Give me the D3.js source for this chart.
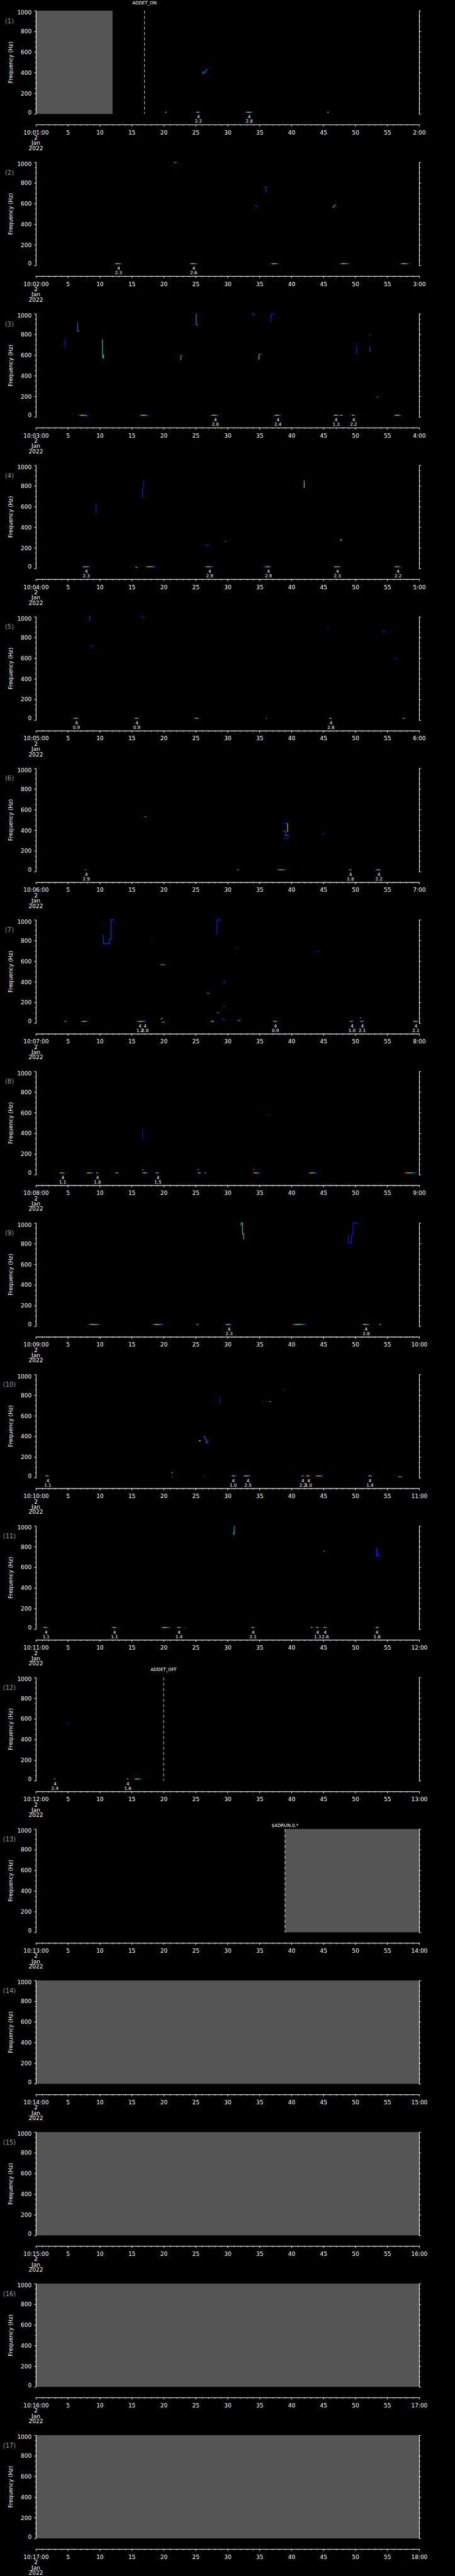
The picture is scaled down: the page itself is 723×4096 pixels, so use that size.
<!DOCTYPE html>
<html>
<head>
<meta charset="utf-8">
<script src="https://cdn.jsdelivr.net/npm/d3@7"></script>
<style>
  html, body { margin: 0; padding: 0; background: #000; }
  svg { display: block; }
  text { font-family: "DejaVu Sans", sans-serif; fill: #fff; }
</style>
</head>
<body>
<div id="chart"></div>
<script>
// one panel per hour, 2 Jan 2022
const panelIds = d3.range(1, 18);
const startLabels = panelIds.map(h => `10:${String(h).padStart(2, '0')}:00`);
const endLabels = panelIds.map(h => `${h + 1}:00`);
const dateLines = ['2', 'Jan', '2022'];
const freqTicks = [0, 200, 400, 600, 800, 1000];
const freqMinor = d3.range(0, 1001, 50);
const minuteMajor = d3.range(0, 61, 5);
const minuteMinor = d3.range(0, 61, 1);

// no-data spans: [panel, start minute, end minute]
const gaps = [[1, 0, 12], [13, 39, 60], [14, 0, 60], [15, 0, 60], [16, 0, 60], [17, 0, 60]];

// event flags: [panel, minute, text, label row]
const flags = [[1, 17, 'ADDET_ON', 0], [12, 20, 'ADDET_OFF', 0], [13, 39, '$ADRUN,0,*', 1]];

// spectral traces: [panel, intensity 0..1, [[minute, Hz], ...]]
const traces = [
  [1, 0.2, [[26.15, 385], [26.15, 405], [26.6, 405], [26.65, 430], [26.85, 430]]],
  [2, 0.35, [[21.7, 990], [21.7, 998], [22.05, 998]]],
  [2, 0.1, [[34.4, 585], [34.5, 572], [34.7, 572]]],
  [2, 0.1, [[35.8, 759], [36.05, 759], [36.05, 705]]],
  [2, 0.3, [[46.4, 565], [46.7, 565], [46.7, 585], [47.0, 585]]],
  [3, 0.05, [[4.58, 754], [4.58, 673]]],
  [3, 0.2, [[6.53, 916], [6.53, 828], [6.9, 828]]],
  [3, 0.45, [[10.43, 754], [10.43, 573], [10.6, 573], [10.6, 605]]],
  [3, 0.35, [[22.6, 555], [22.7, 555], [22.7, 596], [22.9, 596]]],
  [3, 0.25, [[25.1, 1000], [25.1, 894], [25.4, 894]]],
  [3, 0.1, [[33.8, 1000], [34.0, 1000], [34.2, 985]]],
  [3, 0.05, [[36.8, 916], [36.8, 1000], [37.3, 1000]]],
  [3, 0.6, [[34.9, 553], [34.95, 600], [35.0, 608]]],
  [3, 0.95, [[35.0, 608], [35.35, 608]]],
  [3, 0.05, [[50.2, 688], [50.2, 602]]],
  [3, 0.3, [[52.3, 794], [52.4, 794]]],
  [3, 0.15, [[52.3, 682], [52.3, 636], [52.4, 636]]],
  [3, 0.2, [[53.3, 195], [53.7, 190]]],
  [4, 0.05, [[9.4, 626], [9.4, 531]]],
  [4, 0.05, [[16.5, 694], [16.7, 694], [16.7, 760], [16.85, 780], [16.85, 843], [16.95, 843]]],
  [4, 0.55, [[42.0, 851], [42.0, 780]]],
  [4, 0.05, [[26.5, 220], [27.1, 237]]],
  [4, 0.3, [[29.6, 263], [29.8, 263]]],
  [4, 0.35, [[47.7, 285], [47.75, 270], [47.9, 285]]],
  [4, 0.5, [[15.6, 15], [15.9, 8]]],
  [5, 0.1, [[8.4, 960], [8.45, 1000], [8.65, 1000]]],
  [5, 0.05, [[8.5, 715], [8.9, 712]]],
  [5, 0.05, [[16.4, 997], [17.0, 997]]],
  [5, 0.05, [[45.6, 897], [45.85, 886]]],
  [5, 0.05, [[54.3, 855], [54.7, 855]]],
  [5, 0.05, [[56.1, 590], [56.5, 598]]],
  [6, 0.3, [[17.0, 531], [17.3, 531]]],
  [6, 0.05, [[38.8, 470], [39.4, 470]]],
  [6, 0.6, [[39.4, 470], [39.4, 385]]],
  [6, 0.15, [[38.7, 394], [39.1, 394], [39.1, 350], [39.6, 350]]],
  [6, 0.05, [[38.7, 322], [39.6, 322]]],
  [6, 0.05, [[44.85, 351], [45.0, 371]]],
  [7, 0.1, [[10.5, 857], [10.6, 771], [11.55, 771], [11.55, 814], [11.75, 814], [11.75, 1000], [12.2, 1000]]],
  [7, 0.05, [[18.05, 803], [18.2, 803]]],
  [7, 0.4, [[19.5, 566], [20.2, 566]]],
  [7, 0.05, [[28.1, 863], [28.35, 863], [28.35, 1000], [28.9, 1000]]],
  [7, 0.05, [[29.4, 408], [29.5, 394], [29.65, 408]]],
  [7, 0.2, [[26.8, 294], [27.1, 285]]],
  [7, 0.3, [[29.4, 163], [29.55, 163]]],
  [7, 0.55, [[28.4, 100], [28.6, 100]]],
  [7, 0.05, [[29.15, 43], [29.4, 31], [29.8, 31]]],
  [7, 0.25, [[31.6, 26], [32.0, 26]]],
  [7, 0.05, [[31.4, 726], [31.7, 726]]],
  [7, 0.05, [[44.1, 697], [44.4, 697]]],
  [7, 0.75, [[19.6, 37], [19.75, 51]]],
  [7, 0.4, [[19.7, 9], [20.2, 9]]],
  [7, 0.7, [[50.75, 51], [50.9, 51]]],
  [8, 0.0, [[16.7, 444], [16.7, 350]]],
  [8, 0.05, [[36.4, 578], [36.6, 578]]],
  [8, 0.7, [[16.65, 48], [16.8, 48]]],
  [8, 0.7, [[25.35, 48], [25.5, 48]]],
  [8, 0.7, [[34.0, 48], [34.1, 48]]],
  [9, 0.4, [[32.1, 975], [32.15, 1000], [32.35, 1000], [32.35, 894], [32.55, 894], [32.55, 840]]],
  [9, 0.05, [[48.9, 880], [48.9, 807], [49.4, 807], [49.4, 883], [49.65, 883], [49.65, 1000], [50.5, 1000]]],
  [10, 0.05, [[28.8, 780], [28.8, 714]]],
  [10, 0.75, [[25.5, 357], [25.8, 357]]],
  [10, 0.15, [[26.2, 400], [26.5, 400], [26.5, 374], [26.65, 374], [26.65, 337], [26.9, 337], [26.9, 366]]],
  [10, 0.3, [[36.5, 737], [36.8, 737]]],
  [10, 0.05, [[38.7, 860], [38.95, 860]]],
  [10, 0.35, [[21.2, 45], [21.45, 52]]],
  [10, 0.95, [[21.3, 9], [21.45, 9]]],
  [10, 0.05, [[26.3, 9], [26.5, 9]]],
  [10, 0.3, [[56.7, 12], [57.3, 9]]],
  [11, 0.35, [[30.9, 935], [31.0, 918], [31.05, 930], [31.05, 1000]]],
  [11, 0.6, [[45.05, 755], [45.2, 755]]],
  [11, 0.05, [[53.3, 783], [53.3, 706], [53.45, 706], [53.45, 783]]],
  [11, 0.05, [[53.6, 740], [53.6, 715], [53.85, 715], [53.85, 706]]],
  [11, 0.5, [[23.4, 12], [23.5, 12]]],
  [12, 0.05, [[4.95, 554], [5.2, 558]]]
];

// low-frequency event bars: [panel, start minute, end minute]
const eventFreq = 17;
const events = [
  [1, 20.2, 20.5], [1, 25.1, 25.7], [1, 32.9, 33.9], [1, 45.6, 45.9],
  [2, 12.35, 13.5], [2, 24.1, 25.35], [2, 36.8, 38.0], [2, 47.6, 49.1], [2, 57.1, 58.5],
  [3, 6.76, 8.2], [3, 16.3, 17.6], [3, 27.4, 28.6], [3, 37.3, 38.4], [3, 46.6, 47.5], [3, 47.6, 48.1], [3, 49.4, 50.0], [3, 56.1, 57.2],
  [4, 7.25, 8.5], [4, 17.2, 18.8], [4, 26.5, 27.8], [4, 35.8, 36.9], [4, 46.6, 47.8], [4, 56.1, 57.2],
  [5, 5.85, 6.76], [5, 15.4, 16.2], [5, 24.8, 25.6], [5, 36.0, 36.2], [5, 45.9, 46.4], [5, 57.4, 57.8],
  [6, 7.7, 7.9], [6, 31.5, 31.8], [6, 37.8, 39.2], [6, 49.0, 49.5], [6, 53.2, 54.1],
  [7, 4.5, 4.85], [7, 7.1, 8.2], [7, 15.8, 17.3], [7, 27.35, 28.0], [7, 37.1, 37.9], [7, 49.1, 49.75], [7, 50.75, 51.4], [7, 59.0, 60],
  [8, 3.7, 4.6], [8, 7.9, 9.0], [8, 9.4, 9.8], [8, 12.4, 13.0], [8, 16.65, 17.55], [8, 18.7, 19.3], [8, 25.3, 25.9], [8, 26.4, 26.7], [8, 34.0, 35.1], [8, 42.7, 44.0], [8, 57.7, 59.6],
  [9, 8.25, 10.15], [9, 18.3, 20.0], [9, 25.1, 25.5], [9, 29.65, 30.7], [9, 40.2, 42.3], [9, 51.1, 52.3], [9, 53.75, 54.1],
  [10, 1.45, 2.1], [10, 30.6, 31.4], [10, 32.5, 33.65], [10, 41.6, 41.95], [10, 42.3, 43.0], [10, 43.8, 45.0], [10, 52.0, 52.7],
  [11, 1.1, 2.0], [11, 11.9, 12.7], [11, 19.6, 21.1], [11, 22.1, 22.8], [11, 33.7, 34.3], [11, 43.0, 43.4], [11, 43.8, 44.35], [11, 45.0, 45.6], [11, 53.15, 53.8],
  [12, 2.85, 3.1], [12, 14.2, 14.55], [12, 15.4, 16.55]
];

// event annotations: [panel, minute, value]  (drawn under a "4")
const eventLabels = [
  [1, 25.45, '2.2'], [1, 33.4, '2.8'],
  [2, 12.94, '2.3'], [2, 24.7, '2.6'],
  [3, 28.1, '2.8'], [3, 37.9, '2.4'], [3, 47.0, '1.3'], [3, 49.75, '2.2'],
  [4, 7.9, '2.3'], [4, 27.2, '2.9'], [4, 36.4, '2.9'], [4, 47.2, '2.3'], [4, 56.7, '2.2'],
  [5, 6.35, '0.9'], [5, 15.8, '0.9'], [5, 46.2, '2.6'],
  [6, 7.9, '2.9'], [6, 49.25, '2.8'], [6, 53.7, '2.2'],
  [7, 16.3, '1.2'], [7, 17.1, '2.8'], [7, 37.5, '0.9'], [7, 49.5, '1.0'], [7, 51.1, '2.1'], [7, 59.5, '2.1'],
  [8, 4.2, '1.1'], [8, 9.65, '1.8'], [8, 19.1, '1.5'],
  [9, 30.25, '2.3'], [9, 51.7, '2.8'],
  [10, 1.86, '1.1'], [10, 30.9, '1.0'], [10, 33.2, '2.5'], [10, 41.8, '2.2'], [10, 42.7, '1.0'], [10, 52.3, '1.4'],
  [11, 1.6, '1.1'], [11, 12.3, '1.1'], [11, 22.4, '1.4'], [11, 34.0, '2.1'], [11, 44.1, '1.3'], [11, 45.3, '2.6'], [11, 53.4, '1.6'],
  [12, 3.0, '2.4'], [12, 14.4, '1.6']
];

// drawing in reference pixels, scaled down by the viewBox
const W = 1024, H = 5802;
const panelH = H / panelIds.length;
const plot = { left: 80.7, right: 943.4, top: 24, bottom: 256.6, axisY: 280.6 };
const tickFont = 12.7;

const svg = d3.select('#chart').append('svg')
  .attr('width', 723)
  .attr('height', 4096)
  .attr('viewBox', `0 0 ${W} ${H}`)
  .style('background', '#000');

const defs = svg.append('defs');
const grad = defs.append('linearGradient').attr('id', 'evt').attr('x1', 0).attr('x2', 1).attr('y1', 0).attr('y2', 0);
[['0', '#ff0000'], ['0.3', '#ffff00'], ['0.6', '#00ffff'], ['1', '#0000ff']].forEach(s => {
  grad.append('stop').attr('offset', s[0]).attr('stop-color', s[1]);
});

const x = d3.scaleLinear().domain([0, 60]).range([plot.left, plot.right]);
const y = d3.scaleLinear().domain([0, 1000]).range([plot.bottom, plot.top]);
const color = d3.scaleLinear()
  .domain([0, 0.25, 0.5, 0.75, 1])
  .range(['#0000ff', '#00a0ff', '#00ff90', '#ffff00', '#ff0000']);
const line = d3.line().x(d => x(d[0])).y(d => y(d[1]));

function styleAxis(g) {
  g.select('.domain').attr('stroke', '#fff').attr('stroke-width', 1);
  g.selectAll('.tick line').attr('stroke', '#fff').attr('stroke-width', 1);
  g.selectAll('text').attr('fill', '#fff').attr('font-size', tickFont)
    .attr('font-family', '"DejaVu Sans", sans-serif');
}

panelIds.forEach((id, i) => {
  const g = svg.append('g').attr('transform', `translate(0,${i * panelH})`);

  // no data
  g.selectAll('rect.gap')
    .data(gaps.filter(d => d[0] === id))
    .join('rect')
    .attr('class', 'gap')
    .attr('x', d => x(d[1]))
    .attr('width', d => x(d[2]) - x(d[1]))
    .attr('y', y(1000))
    .attr('height', y(0) - y(1000))
    .attr('fill', '#555555');

  // traces
  g.selectAll('path.trace')
    .data(traces.filter(d => d[0] === id))
    .join('path')
    .attr('class', 'trace')
    .attr('d', d => line(d[2]))
    .attr('fill', 'none')
    .attr('stroke', d => color(d[1]))
    .attr('stroke-width', 1.5);

  // event bars
  g.selectAll('rect.evt')
    .data(events.filter(d => d[0] === id))
    .join('rect')
    .attr('class', 'evt')
    .attr('x', d => x(d[1]))
    .attr('width', d => Math.max(1.5, x(d[2]) - x(d[1])))
    .attr('y', y(eventFreq) - 0.8)
    .attr('height', 1.6)
    .attr('fill', 'url(#evt)');

  const labs = g.selectAll('g.elab')
    .data(eventLabels.filter(d => d[0] === id))
    .join('g')
    .attr('class', 'elab')
    .attr('transform', d => `translate(${x(d[1])},0)`);
  labs.append('text').attr('y', 266.7).attr('text-anchor', 'middle').attr('font-size', 10).text('4');
  labs.append('text').attr('y', 276.7).attr('text-anchor', 'middle').attr('font-size', 10).text(d => d[2]);

  // flags
  const fl = g.selectAll('g.flag')
    .data(flags.filter(d => d[0] === id))
    .join('g')
    .attr('class', 'flag');
  fl.append('line')
    .attr('x1', d => x(d[1])).attr('x2', d => x(d[1]))
    .attr('y1', y(1000)).attr('y2', y(0))
    .attr('stroke', '#fff').attr('stroke-width', 1.1)
    .attr('stroke-dasharray', '7,5');
  fl.append('text')
    .attr('x', d => x(d[1]))
    .attr('y', d => d[3] ? 20 : 10)
    .attr('text-anchor', 'middle')
    .attr('font-size', 10)
    .text(d => d[2]);

  // left axis
  g.append('g')
    .attr('transform', `translate(${plot.left},0)`)
    .call(d3.axisLeft(y).tickValues(freqMinor).tickSize(2.3).tickSizeOuter(0).tickFormat(''))
    .call(styleAxis);
  const la = g.append('g')
    .attr('transform', `translate(${plot.left},0)`)
    .call(d3.axisLeft(y).tickValues(freqTicks).tickSize(4).tickSizeOuter(0).tickPadding(5.7)
      .tickFormat(d3.format('d')))
    .call(styleAxis);
  la.selectAll('text').attr('dy', d => d === 1000 ? '0.64em' : d === 0 ? '0em' : '0.34em');

  // right axis
  g.append('g')
    .attr('transform', `translate(${plot.right},0)`)
    .call(d3.axisRight(y).tickValues(freqMinor).tickSize(2.7).tickSizeOuter(0).tickFormat(''))
    .call(styleAxis);
  g.append('g')
    .attr('transform', `translate(${plot.right},0)`)
    .call(d3.axisRight(y).tickValues(freqTicks).tickSize(4.3).tickSizeOuter(0).tickFormat(''))
    .call(styleAxis);

  // time axis
  g.append('g')
    .attr('transform', `translate(0,${plot.axisY})`)
    .call(d3.axisBottom(x).tickValues(minuteMinor).tickSize(2.7).tickSizeOuter(0).tickFormat(''))
    .call(styleAxis);
  const xa = g.append('g')
    .attr('transform', `translate(0,${plot.axisY})`)
    .call(d3.axisBottom(x).tickValues(minuteMajor).tickSize(4.7).tickSizeOuter(0)
      .tickFormat(m => m === 0 ? startLabels[i] : m === 60 ? endLabels[i] : String(m)))
    .call(styleAxis);
  xa.selectAll('text').attr('y', 22.1).attr('dy', 0);

  g.selectAll('text.date')
    .data(dateLines)
    .join('text')
    .attr('class', 'date')
    .attr('x', plot.left)
    .attr('y', (d, k) => 314.7 + k * 11.8)
    .attr('text-anchor', 'middle')
    .attr('font-size', tickFont)
    .text(d => d);

  // panel number and axis title
  g.append('text')
    .attr('x', 21.2).attr('y', 52)
    .attr('text-anchor', 'middle')
    .attr('font-size', 14)
    .style('fill', '#9a9a9a')
    .text(`(${id})`);

  g.append('text')
    .attr('transform', `translate(23.5,${(plot.top + plot.bottom) / 2}) rotate(-90)`)
    .attr('text-anchor', 'middle')
    .attr('dominant-baseline', 'central')
    .attr('font-size', 12.5)
    .text('Frequency (Hz)');
});
</script>
</body>
</html>
